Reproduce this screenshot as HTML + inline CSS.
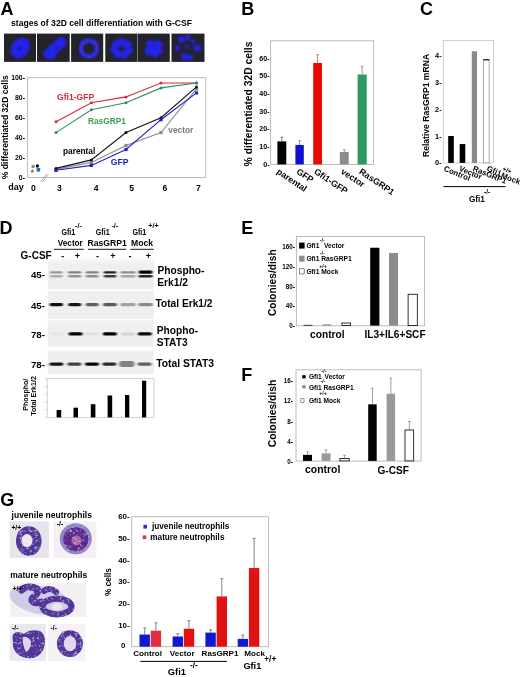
<!DOCTYPE html><html><head><meta charset="utf-8"><style>html,body{margin:0;padding:0;background:#fff;overflow:hidden;}svg{display:block;will-change:transform;}</style></head><body>
<svg width="520" height="677" viewBox="0 0 520 677" font-family='"Liberation Sans", sans-serif'>
<defs>
<clipPath id="clipA0"><rect x="4" y="33.6" width="32" height="28.299999999999997"/></clipPath>
<clipPath id="clipA1"><rect x="37" y="33.6" width="32.7" height="28.299999999999997"/></clipPath>
<clipPath id="clipA2"><rect x="71.1" y="33.6" width="32.10000000000001" height="28.299999999999997"/></clipPath>
<clipPath id="clipA3"><rect x="105.3" y="33.6" width="31.700000000000003" height="28.299999999999997"/></clipPath>
<clipPath id="clipA4"><rect x="137.4" y="33.6" width="32.400000000000006" height="28.299999999999997"/></clipPath>
<clipPath id="clipA5"><rect x="171.5" y="33.6" width="33.0" height="28.299999999999997"/></clipPath>
<filter id="blur1" x="-30%" y="-150%" width="160%" height="400%"><feGaussianBlur stdDeviation="1.1 0.7"/></filter>
<filter id="blurA"><feGaussianBlur stdDeviation="0.9"/></filter>
<filter id="blurG"><feTurbulence type="fractalNoise" baseFrequency="0.4" numOctaves="2" seed="7" result="n"/><feColorMatrix in="n" type="matrix" values="0 0 0 0 0.62  0 0 0 0 0.55  0 0 0 0 0.85  0 0 0 3 -1.75" result="sp"/><feComposite in="sp" in2="SourceGraphic" operator="in" result="s2"/><feMerge result="m"><feMergeNode in="SourceGraphic"/><feMergeNode in="s2"/></feMerge><feGaussianBlur in="m" stdDeviation="0.65"/></filter>
</defs>
<rect x="0.00" y="0.00" width="520.00" height="677.00" fill="#fff" stroke="none" stroke-width="1" />
<text x="0.4" y="14.8" font-size="18" text-anchor="start" font-weight="bold" fill="#000" >A</text>
<text x="11" y="25.8" font-size="8.6" text-anchor="start" font-weight="bold" fill="#000" >stages of 32D cell differentiation with G-CSF</text>
<rect x="4.00" y="33.60" width="32.00" height="28.30" fill="#24232a" stroke="none" stroke-width="1" />
<g clip-path="url(#clipA0)" filter="url(#blurA)">
<ellipse cx="20.2" cy="48" rx="8.8" ry="11" transform="rotate(38 20.2 48)" fill="#2424e8"/><ellipse cx="19.5" cy="48.5" rx="3" ry="2.2" fill="#1a1ac0"/>
</g>
<rect x="37.00" y="33.60" width="32.70" height="28.30" fill="#24232a" stroke="none" stroke-width="1" />
<g clip-path="url(#clipA1)" filter="url(#blurA)">
<ellipse cx="55" cy="48" rx="5.5" ry="12.5" transform="rotate(48 55 48)" fill="#2424e8"/><ellipse cx="50" cy="53.5" rx="6.8" ry="6" fill="#2424e8"/><ellipse cx="61" cy="42.5" rx="5.5" ry="5.5" fill="#2424e8"/><ellipse cx="56" cy="48" rx="2" ry="1.2" fill="#1a1ab0"/>
</g>
<rect x="71.10" y="33.60" width="32.10" height="28.30" fill="#24232a" stroke="none" stroke-width="1" />
<g clip-path="url(#clipA2)" filter="url(#blurA)">
<circle cx="88.9" cy="48.4" r="8.2" fill="none" stroke="#2e2ef0" stroke-width="4.4"/>
</g>
<rect x="105.30" y="33.60" width="31.70" height="28.30" fill="#24232a" stroke="none" stroke-width="1" />
<g clip-path="url(#clipA3)" filter="url(#blurA)">
<circle cx="128.6" cy="50.2" r="4" fill="#2424e8"/><circle cx="124.5" cy="54.5" r="4" fill="#2424e8"/><circle cx="118.2" cy="54.3" r="4" fill="#2424e8"/><circle cx="114.5" cy="49.7" r="4" fill="#2424e8"/><circle cx="116.1" cy="44.2" r="4" fill="#2424e8"/><circle cx="121.9" cy="41.9" r="4" fill="#2424e8"/><circle cx="127.4" cy="44.6" r="4" fill="#2424e8"/>
</g>
<rect x="137.40" y="33.60" width="32.40" height="28.30" fill="#24232a" stroke="none" stroke-width="1" />
<g clip-path="url(#clipA4)" filter="url(#blurA)">
<circle cx="150" cy="50.5" r="5.2" fill="#2424e8"/><circle cx="157.5" cy="45" r="5" fill="#2424e8"/><circle cx="155" cy="53" r="4.2" fill="#2424e8"/><circle cx="149.5" cy="43.5" r="3.6" fill="#2424e8"/><circle cx="160" cy="51" r="3" fill="#2424e8"/>
</g>
<rect x="171.50" y="33.60" width="33.00" height="28.30" fill="#24232a" stroke="none" stroke-width="1" />
<g clip-path="url(#clipA5)" filter="url(#blurA)">
<circle cx="181.4" cy="39.5" r="3.6" fill="#2424e8"/><circle cx="188" cy="37.5" r="2.8" fill="#2424e8"/><circle cx="197.3" cy="48" r="3.6" fill="#2424e8"/><circle cx="184.6" cy="56.4" r="3.6" fill="#2424e8"/><circle cx="190" cy="57.5" r="2.8" fill="#2424e8"/><circle cx="177.5" cy="48" r="2.6" fill="#2424e8"/><circle cx="187" cy="47" r="2.2" fill="#2424e8"/><circle cx="193" cy="41.5" r="2.2" fill="#2424e8"/>
</g>
<rect x="27.60" y="77.70" width="178.10" height="99.80" fill="none" stroke="#b4b4b4" stroke-width="0.9" />
<text x="25" y="179.60000000000002" font-size="6.9" text-anchor="end" font-weight="bold" fill="#000" >0-</text>
<text x="25" y="159.74" font-size="6.9" text-anchor="end" font-weight="bold" fill="#000" >20-</text>
<text x="25" y="139.88000000000002" font-size="6.9" text-anchor="end" font-weight="bold" fill="#000" >40-</text>
<text x="25" y="120.02000000000001" font-size="6.9" text-anchor="end" font-weight="bold" fill="#000" >60-</text>
<text x="25" y="100.16000000000001" font-size="6.9" text-anchor="end" font-weight="bold" fill="#000" >80-</text>
<text x="25" y="80.30000000000001" font-size="6.9" text-anchor="end" font-weight="bold" fill="#000" >100-</text>
<text transform="translate(7.6,127.2) rotate(-90)" font-size="8.6" text-anchor="middle" font-weight="bold" fill="#000">% differentiated 32D cells</text>
<text x="8.2" y="189.6" font-size="9" text-anchor="start" font-weight="bold" fill="#000" >day</text>
<text x="33.3" y="191.3" font-size="8.6" text-anchor="middle" font-weight="bold" fill="#000" >0</text>
<text x="59.5" y="191.3" font-size="8.6" text-anchor="middle" font-weight="bold" fill="#000" >3</text>
<text x="96.1" y="191.3" font-size="8.6" text-anchor="middle" font-weight="bold" fill="#000" >4</text>
<text x="131.6" y="191.3" font-size="8.6" text-anchor="middle" font-weight="bold" fill="#000" >5</text>
<text x="165" y="191.3" font-size="8.6" text-anchor="middle" font-weight="bold" fill="#000" >6</text>
<text x="198.3" y="191.3" font-size="8.6" text-anchor="middle" font-weight="bold" fill="#000" >7</text>
<line x1="40.60" y1="181.60" x2="46.90" y2="173.90" stroke="#aaaaaa" stroke-width="1.0" />
<line x1="42.00" y1="182.40" x2="48.30" y2="174.70" stroke="#aaaaaa" stroke-width="1.0" />
<polyline points="56.0,169.4 91.4,162.4 126.0,145.5 161.0,132.6 196.5,88.9" fill="none" stroke="#8c8c8c" stroke-width="1.1"/>
<rect x="54.40" y="167.76" width="3.20" height="3.20" fill="#8c8c8c" stroke="none" stroke-width="1" />
<rect x="89.80" y="160.81" width="3.20" height="3.20" fill="#8c8c8c" stroke="none" stroke-width="1" />
<rect x="124.40" y="143.92" width="3.20" height="3.20" fill="#8c8c8c" stroke="none" stroke-width="1" />
<rect x="159.40" y="131.02" width="3.20" height="3.20" fill="#8c8c8c" stroke="none" stroke-width="1" />
<rect x="194.90" y="87.32" width="3.20" height="3.20" fill="#8c8c8c" stroke="none" stroke-width="1" />
<polyline points="56.0,121.7 91.4,102.8 126.0,96.9 161.0,83.0 196.5,83.0" fill="none" stroke="#d8283c" stroke-width="1.1"/>
<circle cx="56.0" cy="121.7" r="1.5" fill="#d8283c"/>
<circle cx="91.4" cy="102.8" r="1.5" fill="#d8283c"/>
<circle cx="126.0" cy="96.9" r="1.5" fill="#d8283c"/>
<circle cx="161.0" cy="83.0" r="1.5" fill="#d8283c"/>
<circle cx="196.5" cy="83.0" r="1.5" fill="#d8283c"/>
<polyline points="56.0,132.6 91.4,109.8 126.0,102.8 161.0,87.9 196.5,83.0" fill="none" stroke="#2a9068" stroke-width="1.1"/>
<circle cx="56.0" cy="132.6" r="1.5" fill="#2a9068"/>
<circle cx="91.4" cy="109.8" r="1.5" fill="#2a9068"/>
<circle cx="126.0" cy="102.8" r="1.5" fill="#2a9068"/>
<circle cx="161.0" cy="87.9" r="1.5" fill="#2a9068"/>
<circle cx="196.5" cy="83.0" r="1.5" fill="#2a9068"/>
<polyline points="56.0,168.4 91.4,159.9 126.0,132.6 161.0,117.7 196.5,86.9" fill="none" stroke="#111111" stroke-width="1.1"/>
<circle cx="56.0" cy="168.4" r="1.5" fill="#111111"/>
<circle cx="91.4" cy="159.9" r="1.5" fill="#111111"/>
<circle cx="126.0" cy="132.6" r="1.5" fill="#111111"/>
<circle cx="161.0" cy="117.7" r="1.5" fill="#111111"/>
<circle cx="196.5" cy="86.9" r="1.5" fill="#111111"/>
<polyline points="56.0,170.3 91.4,165.4 126.0,149.5 161.0,119.7 196.5,92.9" fill="none" stroke="#1a22c8" stroke-width="1.1"/>
<rect x="54.40" y="168.75" width="3.20" height="3.20" fill="#1a22c8" stroke="none" stroke-width="1" />
<rect x="89.80" y="163.78" width="3.20" height="3.20" fill="#1a22c8" stroke="none" stroke-width="1" />
<rect x="124.40" y="147.90" width="3.20" height="3.20" fill="#1a22c8" stroke="none" stroke-width="1" />
<rect x="159.40" y="118.11" width="3.20" height="3.20" fill="#1a22c8" stroke="none" stroke-width="1" />
<rect x="194.90" y="91.30" width="3.20" height="3.20" fill="#1a22c8" stroke="none" stroke-width="1" />
<rect x="31.60" y="165.00" width="3.00" height="3.00" fill="#6a9a80" stroke="none" stroke-width="1" />
<polygon points="30.6,172.2 34,172.2 32.3,169" fill="#d0302a"/>
<circle cx="37.4" cy="166" r="1.7" fill="#111"/>
<rect x="36.60" y="168.00" width="3.60" height="3.60" fill="#2a6ad8" stroke="none" stroke-width="1" />
<text x="57" y="100.2" font-size="8.6" text-anchor="start" font-weight="bold" fill="#d42a3a" >Gfi1-GFP</text>
<text x="88" y="123.6" font-size="8.3" text-anchor="start" font-weight="bold" fill="#3a9c4e" >RasGRP1</text>
<text x="63" y="153.8" font-size="8.3" text-anchor="start" font-weight="bold" fill="#000" >parental</text>
<text x="110.8" y="165.2" font-size="8.7" text-anchor="start" font-weight="bold" fill="#1a22c8" >GFP</text>
<text x="168.3" y="133.2" font-size="8.3" text-anchor="start" font-weight="bold" fill="#7a7a7a" >vector</text>
<text x="241.2" y="14.8" font-size="18" text-anchor="start" font-weight="bold" fill="#000" >B</text>
<rect x="270.60" y="40.80" width="103.00" height="123.60" fill="none" stroke="#b4b4b4" stroke-width="0.9" />
<text x="269.6" y="166.8" font-size="7.1" text-anchor="end" font-weight="bold" fill="#000" >0-</text>
<text x="269.6" y="149.10000000000002" font-size="7.1" text-anchor="end" font-weight="bold" fill="#000" >10-</text>
<text x="269.6" y="131.4" font-size="7.1" text-anchor="end" font-weight="bold" fill="#000" >20-</text>
<text x="269.6" y="113.70000000000002" font-size="7.1" text-anchor="end" font-weight="bold" fill="#000" >30-</text>
<text x="269.6" y="96.00000000000001" font-size="7.1" text-anchor="end" font-weight="bold" fill="#000" >40-</text>
<text x="269.6" y="78.30000000000001" font-size="7.1" text-anchor="end" font-weight="bold" fill="#000" >50-</text>
<text x="269.6" y="60.6" font-size="7.1" text-anchor="end" font-weight="bold" fill="#000" >60-</text>
<text transform="translate(251.6,104) rotate(-90)" font-size="10.3" text-anchor="middle" font-weight="bold" fill="#000">% differentiated 32D cells</text>
<line x1="281.85" y1="137.32" x2="281.85" y2="141.39" stroke="#555" stroke-width="0.8" />
<line x1="280.65" y1="137.32" x2="283.05" y2="137.32" stroke="#555" stroke-width="0.8" />
<rect x="277.40" y="141.39" width="8.90" height="23.01" fill="#000" stroke="none" stroke-width="1" />
<line x1="299.60" y1="140.68" x2="299.60" y2="144.93" stroke="#b06060" stroke-width="0.8" />
<line x1="298.40" y1="140.68" x2="300.80" y2="140.68" stroke="#b06060" stroke-width="0.8" />
<rect x="295.40" y="144.93" width="8.40" height="19.47" fill="#1010d0" stroke="none" stroke-width="1" />
<line x1="317.60" y1="54.66" x2="317.60" y2="62.98" stroke="#b06060" stroke-width="0.8" />
<line x1="316.40" y1="54.66" x2="318.80" y2="54.66" stroke="#b06060" stroke-width="0.8" />
<rect x="313.20" y="62.98" width="8.80" height="101.42" fill="#e80808" stroke="none" stroke-width="1" />
<line x1="344.25" y1="149.89" x2="344.25" y2="152.01" stroke="#b06060" stroke-width="0.8" />
<line x1="343.05" y1="149.89" x2="345.45" y2="149.89" stroke="#b06060" stroke-width="0.8" />
<rect x="339.80" y="152.01" width="8.90" height="12.39" fill="#8c8c8c" stroke="none" stroke-width="1" />
<line x1="362.15" y1="66.17" x2="362.15" y2="74.48" stroke="#b06060" stroke-width="0.8" />
<line x1="360.95" y1="66.17" x2="363.35" y2="66.17" stroke="#b06060" stroke-width="0.8" />
<rect x="357.60" y="74.48" width="9.10" height="89.92" fill="#2e9964" stroke="none" stroke-width="1" />
<text transform="translate(276,173) rotate(34)" font-size="8.8" text-anchor="start" font-weight="bold" fill="#000">parental</text>
<text transform="translate(295.8,173) rotate(34)" font-size="8.8" text-anchor="start" font-weight="bold" fill="#000">GFP</text>
<text transform="translate(313.4,173) rotate(34)" font-size="8.8" text-anchor="start" font-weight="bold" fill="#000">Gfi1-GFP</text>
<text transform="translate(340.3,173) rotate(34)" font-size="8.8" text-anchor="start" font-weight="bold" fill="#000">vector</text>
<text transform="translate(358.6,173) rotate(34)" font-size="8.8" text-anchor="start" font-weight="bold" fill="#000">RasGRP1</text>
<text x="420" y="14.8" font-size="18" text-anchor="start" font-weight="bold" fill="#000" >C</text>
<rect x="443.20" y="40.50" width="50.30" height="122.40" fill="none" stroke="#c4c4c4" stroke-width="0.8" />
<text x="441.6" y="165.4" font-size="7.3" text-anchor="end" font-weight="bold" fill="#000" >0-</text>
<text x="441.6" y="138.5" font-size="7.3" text-anchor="end" font-weight="bold" fill="#000" >1-</text>
<text x="441.6" y="111.60000000000001" font-size="7.3" text-anchor="end" font-weight="bold" fill="#000" >2-</text>
<text x="441.6" y="84.70000000000002" font-size="7.3" text-anchor="end" font-weight="bold" fill="#000" >3-</text>
<text x="441.6" y="57.80000000000001" font-size="7.3" text-anchor="end" font-weight="bold" fill="#000" >4-</text>
<text transform="translate(429.4,105.5) rotate(-90)" font-size="8.6" text-anchor="middle" font-weight="bold" fill="#000">Relative RasGRP1 mRNA</text>
<rect x="448.20" y="136.00" width="5.60" height="26.90" fill="#000" stroke="none" stroke-width="1" />
<rect x="459.70" y="144.07" width="5.60" height="18.83" fill="#000" stroke="none" stroke-width="1" />
<rect x="471.80" y="51.27" width="5.20" height="111.64" fill="#8a8a8a" stroke="none" stroke-width="1" />
<rect x="483.70" y="59.64" width="5.40" height="103.27" fill="#fff" stroke="#777" stroke-width="0.6" />
<line x1="483.40" y1="59.84" x2="489.40" y2="59.84" stroke="#000" stroke-width="1.1" />
<text transform="translate(443.2,170.6) rotate(22)" font-size="7.8" text-anchor="start" font-weight="bold" fill="#000">Control</text>
<text transform="translate(458.5,170.6) rotate(22)" font-size="7.8" text-anchor="start" font-weight="bold" fill="#000">Vector</text>
<text transform="translate(472.2,170.6) rotate(22)" font-size="7.8" text-anchor="start" font-weight="bold" fill="#000">RasGRP1</text>
<text transform="translate(486.2,170.6) rotate(22)" font-size="7.8" text-anchor="start" font-weight="bold" fill="#000">Gfi1</text>
<text transform="translate(502,170.4) rotate(22)" font-size="6.4" text-anchor="start" font-weight="bold" fill="#000">+/+</text>
<text transform="translate(500.6,177.2) rotate(22)" font-size="7.8" text-anchor="start" font-weight="bold" fill="#000">Mock</text>
<line x1="443.40" y1="186.60" x2="505.40" y2="186.60" stroke="#000" stroke-width="1" />
<text x="469" y="201.5" font-size="8.2" text-anchor="start" font-weight="bold" fill="#000" >Gfi1</text>
<text x="484" y="194.3" font-size="6.4" text-anchor="start" font-weight="bold" fill="#000" >-/-</text>
<text x="-0.5" y="234.2" font-size="18" text-anchor="start" font-weight="bold" fill="#000" >D</text>
<text x="68.3" y="235.3" font-size="8.6" text-anchor="middle" font-weight="bold" fill="#000" textLength="13.8" lengthAdjust="spacingAndGlyphs">Gfi1</text>
<text x="75" y="228.2" font-size="7.2" text-anchor="start" font-weight="bold" fill="#000" >-/-</text>
<text x="70.3" y="245.6" font-size="8.2" text-anchor="middle" font-weight="bold" fill="#000" >Vector</text>
<line x1="53.80" y1="249.30" x2="83.80" y2="249.30" stroke="#000" stroke-width="0.9" />
<text x="102.7" y="235.3" font-size="8.6" text-anchor="middle" font-weight="bold" fill="#000" textLength="13.8" lengthAdjust="spacingAndGlyphs">Gfi1</text>
<text x="111.4" y="228.2" font-size="7.2" text-anchor="start" font-weight="bold" fill="#000" >-/-</text>
<text x="107.1" y="245.6" font-size="8.6" text-anchor="middle" font-weight="bold" fill="#000" >RasGRP1</text>
<line x1="88.00" y1="249.30" x2="126.20" y2="249.30" stroke="#000" stroke-width="0.9" />
<text x="139.3" y="235.3" font-size="8.6" text-anchor="middle" font-weight="bold" fill="#000" textLength="13.8" lengthAdjust="spacingAndGlyphs">Gfi1</text>
<text x="148.2" y="228.2" font-size="7.2" text-anchor="start" font-weight="bold" fill="#000" >+/+</text>
<text x="142.05" y="245.6" font-size="8.6" text-anchor="middle" font-weight="bold" fill="#000" >Mock</text>
<line x1="130.40" y1="249.30" x2="153.70" y2="249.30" stroke="#000" stroke-width="0.9" />
<text x="20.6" y="258.8" font-size="10" text-anchor="start" font-weight="bold" fill="#000" >G-CSF</text>
<text x="62.7" y="258.6" font-size="9" text-anchor="middle" font-weight="bold" fill="#000" >-</text>
<text x="77.5" y="258.6" font-size="9" text-anchor="middle" font-weight="bold" fill="#000" >+</text>
<text x="97.6" y="258.6" font-size="9" text-anchor="middle" font-weight="bold" fill="#000" >-</text>
<text x="113" y="258.6" font-size="9" text-anchor="middle" font-weight="bold" fill="#000" >+</text>
<text x="130" y="258.6" font-size="9" text-anchor="middle" font-weight="bold" fill="#000" >-</text>
<text x="148.4" y="258.6" font-size="9" text-anchor="middle" font-weight="bold" fill="#000" >+</text>
<rect x="47.80" y="259.70" width="106.00" height="29.70" fill="#efefef" stroke="none" stroke-width="1" />
<rect x="47.80" y="291.20" width="106.00" height="27.70" fill="#efefef" stroke="none" stroke-width="1" />
<rect x="47.80" y="320.40" width="106.00" height="26.20" fill="#efefef" stroke="none" stroke-width="1" />
<rect x="47.80" y="350.60" width="106.00" height="23.40" fill="#efefef" stroke="none" stroke-width="1" />
<rect x="47.80" y="259.70" width="106.00" height="4.00" fill="#f3f3f3" stroke="none" stroke-width="1" />
<rect x="50.05" y="271.20" width="12.50" height="2.40" rx="1.20" fill="#000" opacity="0.36" filter="url(#blur1)"/>
<rect x="50.05" y="275.00" width="12.50" height="2.40" rx="1.20" fill="#000" opacity="0.28" filter="url(#blur1)"/>
<rect x="68.20" y="271.20" width="13.00" height="2.40" rx="1.20" fill="#000" opacity="0.45" filter="url(#blur1)"/>
<rect x="68.20" y="275.00" width="13.00" height="2.40" rx="1.20" fill="#000" opacity="0.38" filter="url(#blur1)"/>
<rect x="85.70" y="271.20" width="13.00" height="2.40" rx="1.20" fill="#000" opacity="0.45" filter="url(#blur1)"/>
<rect x="85.70" y="275.00" width="13.00" height="2.40" rx="1.20" fill="#000" opacity="0.4" filter="url(#blur1)"/>
<rect x="103.75" y="271.20" width="12.50" height="2.40" rx="1.20" fill="#000" opacity="0.85" filter="url(#blur1)"/>
<rect x="103.75" y="275.00" width="12.50" height="2.40" rx="1.20" fill="#000" opacity="0.75" filter="url(#blur1)"/>
<rect x="120.60" y="271.20" width="15.00" height="2.40" rx="1.20" fill="#000" opacity="0.4" filter="url(#blur1)"/>
<rect x="120.60" y="275.00" width="15.00" height="2.40" rx="1.20" fill="#000" opacity="0.3" filter="url(#blur1)"/>
<rect x="138.60" y="270.50" width="14.00" height="3.20" rx="1.60" fill="#000" opacity="1.0" filter="url(#blur1)"/>
<rect x="138.60" y="275.00" width="14.00" height="2.40" rx="1.20" fill="#000" opacity="0.85" filter="url(#blur1)"/>
<rect x="49.55" y="303.00" width="13.50" height="3.20" rx="1.60" fill="#000" opacity="0.95" filter="url(#blur1)"/>
<rect x="68.20" y="303.00" width="13.00" height="3.20" rx="1.60" fill="#000" opacity="0.92" filter="url(#blur1)"/>
<rect x="85.70" y="303.00" width="13.00" height="3.20" rx="1.60" fill="#000" opacity="0.6" filter="url(#blur1)"/>
<rect x="103.00" y="303.00" width="14.00" height="3.20" rx="1.60" fill="#000" opacity="0.62" filter="url(#blur1)"/>
<rect x="120.35" y="303.00" width="15.50" height="3.20" rx="1.60" fill="#000" opacity="0.32" filter="url(#blur1)"/>
<rect x="138.35" y="303.00" width="14.50" height="3.20" rx="1.60" fill="#000" opacity="0.42" filter="url(#blur1)"/>
<rect x="49.30" y="332.30" width="14.00" height="3.20" rx="1.60" fill="#000" opacity="0.03" filter="url(#blur1)"/>
<rect x="68.60" y="332.30" width="14.00" height="3.20" rx="1.60" fill="#000" opacity="1.0" filter="url(#blur1)"/>
<rect x="85.20" y="332.30" width="14.00" height="3.20" rx="1.60" fill="#000" opacity="0.06" filter="url(#blur1)"/>
<rect x="102.90" y="332.30" width="14.00" height="3.20" rx="1.60" fill="#000" opacity="1.0" filter="url(#blur1)"/>
<rect x="121.00" y="332.30" width="14.00" height="3.20" rx="1.60" fill="#000" opacity="0.1" filter="url(#blur1)"/>
<rect x="137.80" y="332.30" width="14.00" height="3.20" rx="1.60" fill="#000" opacity="0.95" filter="url(#blur1)"/>
<rect x="49.40" y="362.40" width="14.00" height="3.40" rx="1.70" fill="#000" opacity="0.92" filter="url(#blur1)"/>
<rect x="67.30" y="362.40" width="14.00" height="3.40" rx="1.70" fill="#000" opacity="0.72" filter="url(#blur1)"/>
<rect x="85.00" y="362.40" width="14.00" height="3.40" rx="1.70" fill="#000" opacity="0.97" filter="url(#blur1)"/>
<rect x="102.40" y="362.40" width="14.00" height="3.40" rx="1.70" fill="#000" opacity="0.82" filter="url(#blur1)"/>
<rect x="119.05" y="361.10" width="15.50" height="6.00" rx="3.00" fill="#000" opacity="0.45" filter="url(#blur1)"/>
<rect x="137.50" y="362.40" width="14.00" height="3.40" rx="1.70" fill="#000" opacity="0.6" filter="url(#blur1)"/>
<text x="45" y="277.5" font-size="9.7" text-anchor="end" font-weight="bold" fill="#000" >45-</text>
<text x="45" y="308.5" font-size="9.7" text-anchor="end" font-weight="bold" fill="#000" >45-</text>
<text x="45" y="337.5" font-size="9.7" text-anchor="end" font-weight="bold" fill="#000" >78-</text>
<text x="45" y="368" font-size="9.7" text-anchor="end" font-weight="bold" fill="#000" >78-</text>
<text x="157.5" y="273.7" font-size="10.2" text-anchor="start" font-weight="bold" fill="#000" >Phospho-</text>
<text x="157.3" y="286.4" font-size="10.2" text-anchor="start" font-weight="bold" fill="#000" >Erk1/2</text>
<text x="155.5" y="306.9" font-size="10.2" text-anchor="start" font-weight="bold" fill="#000" >Total Erk1/2</text>
<text x="156.8" y="334.1" font-size="10.2" text-anchor="start" font-weight="bold" fill="#000" >Phopho-</text>
<text x="156.8" y="346.1" font-size="10.2" text-anchor="start" font-weight="bold" fill="#000" >STAT3</text>
<text x="156.2" y="366.8" font-size="10.3" text-anchor="start" font-weight="bold" fill="#000" >Total STAT3</text>
<rect x="47.20" y="378.40" width="106.80" height="39.00" fill="none" stroke="#c8c8c8" stroke-width="0.8" />
<line x1="45.60" y1="378.80" x2="46.80" y2="378.80" stroke="#999" stroke-width="0.6" />
<line x1="45.60" y1="386.50" x2="46.80" y2="386.50" stroke="#999" stroke-width="0.6" />
<line x1="45.60" y1="394.20" x2="46.80" y2="394.20" stroke="#999" stroke-width="0.6" />
<line x1="45.60" y1="401.90" x2="46.80" y2="401.90" stroke="#999" stroke-width="0.6" />
<line x1="45.60" y1="409.60" x2="46.80" y2="409.60" stroke="#999" stroke-width="0.6" />
<line x1="45.60" y1="417.30" x2="46.80" y2="417.30" stroke="#999" stroke-width="0.6" />
<rect x="56.60" y="410.00" width="4.60" height="7.40" fill="#000" stroke="none" stroke-width="1" />
<rect x="73.50" y="407.70" width="4.50" height="9.70" fill="#000" stroke="none" stroke-width="1" />
<rect x="90.80" y="404.20" width="4.60" height="13.20" fill="#000" stroke="none" stroke-width="1" />
<rect x="107.60" y="395.50" width="4.60" height="21.90" fill="#000" stroke="none" stroke-width="1" />
<rect x="125.00" y="395.00" width="4.30" height="22.40" fill="#000" stroke="none" stroke-width="1" />
<rect x="142.00" y="380.70" width="4.20" height="36.70" fill="#000" stroke="none" stroke-width="1" />
<text transform="translate(27.6,394.8) rotate(-90)" font-size="7" text-anchor="middle" font-weight="bold" fill="#000">Phospho/</text>
<text transform="translate(36.4,396) rotate(-90)" font-size="7.1" text-anchor="middle" font-weight="bold" fill="#000">Total Erk1/2</text>
<text x="44.2" y="380.2" font-size="4" text-anchor="end" font-weight="normal" fill="#999" >.</text>
<text x="44.2" y="387.9" font-size="4" text-anchor="end" font-weight="normal" fill="#999" >.</text>
<text x="44.2" y="395.59999999999997" font-size="4" text-anchor="end" font-weight="normal" fill="#999" >.</text>
<text x="44.2" y="403.3" font-size="4" text-anchor="end" font-weight="normal" fill="#999" >.</text>
<text x="44.2" y="411.0" font-size="4" text-anchor="end" font-weight="normal" fill="#999" >.</text>
<text x="44.2" y="418.7" font-size="4" text-anchor="end" font-weight="normal" fill="#999" >.</text>
<text x="241.3" y="234.2" font-size="18" text-anchor="start" font-weight="bold" fill="#000" >E</text>
<rect x="296.40" y="236.50" width="128.20" height="89.30" fill="none" stroke="#b4b4b4" stroke-width="0.9" />
<text x="294.8" y="328.3" font-size="6.3" text-anchor="end" font-weight="bold" fill="#000" >0-</text>
<text x="294.8" y="308.46000000000004" font-size="6.3" text-anchor="end" font-weight="bold" fill="#000" >40-</text>
<text x="294.8" y="288.62" font-size="6.3" text-anchor="end" font-weight="bold" fill="#000" >80-</text>
<text x="294.8" y="268.78000000000003" font-size="6.3" text-anchor="end" font-weight="bold" fill="#000" >120-</text>
<text x="294.8" y="248.94" font-size="6.3" text-anchor="end" font-weight="bold" fill="#000" >160-</text>
<text transform="translate(276.3,282.7) rotate(-90)" font-size="10.2" text-anchor="middle" font-weight="bold" fill="#000">Colonies/dish</text>
<rect x="299.10" y="242.60" width="5.50" height="6.00" fill="#000" stroke="none" stroke-width="1" />
<rect x="299.10" y="255.70" width="5.50" height="6.00" fill="#8c8c8c" stroke="none" stroke-width="1" />
<rect x="299.50" y="268.70" width="4.70" height="5.20" fill="#fff" stroke="#666" stroke-width="0.8" />
<text x="306.4" y="247.6" font-size="6.7" text-anchor="start" font-weight="bold" fill="#000" >Gfi1</text>
<text x="324" y="247.6" font-size="6.7" text-anchor="start" font-weight="bold" fill="#000" >Vector</text>
<text x="306.4" y="260.9" font-size="6.7" text-anchor="start" font-weight="bold" fill="#000" >Gfi1 RasGRP1</text>
<text x="306.4" y="273.7" font-size="6.7" text-anchor="start" font-weight="bold" fill="#000" >Gfi1 Mock</text>
<text x="319.8" y="241.8" font-size="5.2" text-anchor="start" font-weight="bold" fill="#000" >-/-</text>
<text x="319.8" y="254.6" font-size="5.2" text-anchor="start" font-weight="bold" fill="#000" >-/-</text>
<text x="319.2" y="267.6" font-size="5.2" text-anchor="start" font-weight="bold" fill="#000" >+/+</text>
<rect x="303.50" y="324.86" width="8.90" height="0.74" fill="#000" stroke="none" stroke-width="1" />
<rect x="322.50" y="324.36" width="8.80" height="1.24" fill="#8c8c8c" stroke="none" stroke-width="1" />
<rect x="341.90" y="323.02" width="8.70" height="2.58" fill="#fff" stroke="#000" stroke-width="0.8" />
<rect x="370.20" y="247.73" width="9.20" height="77.87" fill="#000" stroke="none" stroke-width="1" />
<rect x="389.00" y="252.94" width="9.00" height="72.66" fill="#8c8c8c" stroke="none" stroke-width="1" />
<rect x="408.10" y="294.26" width="9.20" height="31.34" fill="#fff" stroke="#000" stroke-width="0.8" />
<text x="327.3" y="338.4" font-size="10.2" text-anchor="middle" font-weight="bold" fill="#000" >control</text>
<text x="395" y="338.2" font-size="10.1" text-anchor="middle" font-weight="bold" fill="#000" >IL3+IL6+SCF</text>
<text x="241.3" y="381.3" font-size="18" text-anchor="start" font-weight="bold" fill="#000" >F</text>
<rect x="296.00" y="369.80" width="125.10" height="91.30" fill="none" stroke="#b4b4b4" stroke-width="0.9" />
<text x="292.8" y="464.0" font-size="6.3" text-anchor="end" font-weight="bold" fill="#000" >0-</text>
<text x="292.8" y="443.8" font-size="6.3" text-anchor="end" font-weight="bold" fill="#000" >4-</text>
<text x="292.8" y="423.6" font-size="6.3" text-anchor="end" font-weight="bold" fill="#000" >8-</text>
<text x="292.8" y="403.4" font-size="6.3" text-anchor="end" font-weight="bold" fill="#000" >12-</text>
<text x="292.8" y="383.2" font-size="6.3" text-anchor="end" font-weight="bold" fill="#000" >16-</text>
<text transform="translate(276.4,413.5) rotate(-90)" font-size="10.3" text-anchor="middle" font-weight="bold" fill="#000">Colonies/dish</text>
<rect x="302.20" y="375.20" width="3.40" height="3.20" fill="#000" stroke="none" stroke-width="1" />
<rect x="302.20" y="385.20" width="3.40" height="3.20" fill="#8c8c8c" stroke="none" stroke-width="1" />
<rect x="300.80" y="398.70" width="3.20" height="3.80" fill="#fff" stroke="#666" stroke-width="0.7" />
<text x="308.9" y="379.1" font-size="6.6" text-anchor="start" font-weight="bold" fill="#000" >Gfi1</text>
<text x="324.6" y="379.1" font-size="6.6" text-anchor="start" font-weight="bold" fill="#000" >Vector</text>
<text x="308.9" y="389.8" font-size="6.6" text-anchor="start" font-weight="bold" fill="#000" >Gfi1 RasGRP1</text>
<text x="308.9" y="402.7" font-size="6.6" text-anchor="start" font-weight="bold" fill="#000" >Gfi1 Mock</text>
<text x="321.6" y="373.2" font-size="5.2" text-anchor="start" font-weight="bold" fill="#000" >-/-</text>
<text x="320.5" y="383.3" font-size="5.2" text-anchor="start" font-weight="bold" fill="#000" >-/-</text>
<text x="319.3" y="394.6" font-size="5.2" text-anchor="start" font-weight="bold" fill="#000" >+/+</text>
<line x1="307.50" y1="451.81" x2="307.50" y2="454.84" stroke="#888" stroke-width="0.8" />
<line x1="306.20" y1="451.81" x2="308.80" y2="451.81" stroke="#888" stroke-width="0.8" />
<rect x="303.00" y="454.84" width="9.00" height="6.06" fill="#000" stroke="none" stroke-width="1" />
<line x1="326.05" y1="449.79" x2="326.05" y2="453.32" stroke="#888" stroke-width="0.8" />
<line x1="324.75" y1="449.79" x2="327.35" y2="449.79" stroke="#888" stroke-width="0.8" />
<rect x="321.60" y="453.32" width="8.90" height="7.57" fill="#999" stroke="none" stroke-width="1" />
<line x1="344.55" y1="455.34" x2="344.55" y2="458.12" stroke="#888" stroke-width="0.8" />
<line x1="343.25" y1="455.34" x2="345.85" y2="455.34" stroke="#888" stroke-width="0.8" />
<rect x="339.90" y="458.52" width="9.30" height="2.38" fill="#fff" stroke="#000" stroke-width="0.8" />
<line x1="372.45" y1="388.18" x2="372.45" y2="404.34" stroke="#888" stroke-width="0.8" />
<line x1="371.15" y1="388.18" x2="373.75" y2="388.18" stroke="#888" stroke-width="0.8" />
<rect x="368.20" y="404.34" width="8.50" height="56.56" fill="#000" stroke="none" stroke-width="1" />
<line x1="390.85" y1="378.08" x2="390.85" y2="393.73" stroke="#888" stroke-width="0.8" />
<line x1="389.55" y1="378.08" x2="392.15" y2="378.08" stroke="#888" stroke-width="0.8" />
<rect x="386.60" y="393.73" width="8.50" height="67.17" fill="#999" stroke="none" stroke-width="1" />
<line x1="409.35" y1="421.51" x2="409.35" y2="429.59" stroke="#888" stroke-width="0.8" />
<line x1="408.05" y1="421.51" x2="410.65" y2="421.51" stroke="#888" stroke-width="0.8" />
<rect x="405.00" y="429.99" width="8.70" height="30.91" fill="#fff" stroke="#000" stroke-width="0.8" />
<text x="322.7" y="473.2" font-size="10.4" text-anchor="middle" font-weight="bold" fill="#000" >control</text>
<text x="393.2" y="473.5" font-size="10.1" text-anchor="middle" font-weight="bold" fill="#000" >G-CSF</text>
<text x="0.2" y="505.8" font-size="18" text-anchor="start" font-weight="bold" fill="#000" >G</text>
<text x="11.6" y="518" font-size="8.5" text-anchor="start" font-weight="bold" fill="#000" >juvenile neutrophils</text>
<text x="10.2" y="578.4" font-size="8.5" text-anchor="start" font-weight="bold" fill="#000" >mature neutrophils</text>
<rect x="9.60" y="521.40" width="39.30" height="36.60" fill="#e8e4ec" stroke="none" stroke-width="1" />
<rect x="53.40" y="521.40" width="43.00" height="36.60" fill="#f6f0f3" stroke="none" stroke-width="1" />
<rect x="10.40" y="583.20" width="75.60" height="33.80" fill="#f3eff3" stroke="none" stroke-width="1" />
<rect x="9.60" y="624.00" width="36.30" height="37.00" fill="#ebe7ef" stroke="none" stroke-width="1" />
<rect x="48.20" y="624.00" width="37.10" height="37.00" fill="#f5f1f5" stroke="none" stroke-width="1" />
<g filter="url(#blurG)">
<ellipse cx="28.8" cy="541" rx="12.8" ry="14.8" fill="#52349a"/>
<ellipse cx="27" cy="540.6" rx="5.6" ry="6.6" fill="#efeaf2"/>
<circle cx="20" cy="533" r="2.2" fill="#6a58b0"/>
<circle cx="36" cy="534" r="2" fill="#6a58b0"/>
<circle cx="37" cy="548" r="2.2" fill="#6a58b0"/>
<circle cx="22" cy="550" r="2" fill="#6a58b0"/>
<circle cx="29" cy="528.5" r="1.8" fill="#6a58b0"/>
<ellipse cx="75.8" cy="538.8" rx="16" ry="15.5" fill="#8e86c8"/>
<ellipse cx="75.8" cy="539.3" rx="12.5" ry="12" fill="#5c2a8c"/>
<circle cx="76.5" cy="540.5" r="5" fill="#a868a8"/>
<circle cx="68" cy="532" r="1.6" fill="#8a4aa0"/>
<circle cx="84" cy="534" r="1.5" fill="#8a4aa0"/>
<circle cx="82" cy="546" r="1.6" fill="#8a4aa0"/>
<circle cx="69" cy="547" r="1.4" fill="#8a4aa0"/>
<ellipse cx="40" cy="600" rx="31" ry="14" transform="rotate(12 40 600)" fill="#cdcde6"/>
<path d="M21.5,590 C25,586.5 32,586 37,589 C40,592 34,596 32,599 C31,602 36,604 41,602" fill="none" stroke="#52349a" stroke-width="7" stroke-linecap="round"/>
<path d="M44,591 C48,588 53,589 56,592" fill="none" stroke="#52349a" stroke-width="6.2" stroke-linecap="round"/>
<ellipse cx="57" cy="606.5" rx="14.5" ry="7.8" fill="none" stroke="#52349a" stroke-width="6.2"/>
<ellipse cx="57" cy="606.8" rx="5.5" ry="3.6" fill="#ece6f0"/>
<path d="M12.5,636 C14,631 20,631 24,634 C27,631 33,629 40,631 C46,634 46,644 43,650 C40,656 34,659 28,658 C21,658 14,653 13,646 Z" fill="#52349a"/>
<path d="M23,637 C26,636 29,638 31,641 C31,646 29,651 26,652 C24,648 22,642 23,637 Z" fill="#ddd6ea"/>
<ellipse cx="69.9" cy="643.6" rx="13" ry="13.3" fill="#52349a"/>
<ellipse cx="70" cy="643.6" rx="6.3" ry="7.6" fill="#e0daec"/>
<circle cx="59" cy="640" r="1.4" fill="#7a6ab8"/>
<circle cx="63" cy="633" r="1.4" fill="#7a6ab8"/>
<circle cx="77" cy="633.5" r="1.4" fill="#7a6ab8"/>
<circle cx="81" cy="645" r="1.4" fill="#7a6ab8"/>
<circle cx="74" cy="655" r="1.4" fill="#7a6ab8"/>
<circle cx="62" cy="652" r="1.4" fill="#7a6ab8"/>
</g>
<text x="11.4" y="530.3" font-size="6.8" text-anchor="start" font-weight="bold" fill="#000" >+/+</text>
<text x="56.8" y="525.5" font-size="6.8" text-anchor="start" font-weight="bold" fill="#000" >-/-</text>
<text x="12.6" y="590.5" font-size="6.8" text-anchor="start" font-weight="bold" fill="#000" >+/+</text>
<text x="12" y="629.8" font-size="6.8" text-anchor="start" font-weight="bold" fill="#000" >-/-</text>
<text x="50.5" y="630.3" font-size="6.8" text-anchor="start" font-weight="bold" fill="#000" >-/-</text>
<rect x="131.70" y="516.70" width="136.70" height="130.00" fill="none" stroke="#b4b4b4" stroke-width="0.9" />
<text x="129.6" y="627.7300000000001" font-size="7.9" text-anchor="end" font-weight="bold" fill="#000" >10-</text>
<text x="129.6" y="606.0600000000001" font-size="7.9" text-anchor="end" font-weight="bold" fill="#000" >20-</text>
<text x="129.6" y="584.3900000000001" font-size="7.9" text-anchor="end" font-weight="bold" fill="#000" >30-</text>
<text x="129.6" y="562.7200000000001" font-size="7.9" text-anchor="end" font-weight="bold" fill="#000" >40-</text>
<text x="129.6" y="541.0500000000001" font-size="7.9" text-anchor="end" font-weight="bold" fill="#000" >50-</text>
<text x="129.6" y="519.3800000000001" font-size="7.9" text-anchor="end" font-weight="bold" fill="#000" >60-</text>
<text x="123.2" y="647.6" font-size="7.9" text-anchor="middle" font-weight="bold" fill="#000" >0</text>
<text transform="translate(111,582) rotate(-90)" font-size="8.2" text-anchor="middle" font-weight="bold" fill="#000">% cells</text>
<rect x="143.40" y="524.80" width="3.60" height="3.80" fill="#2a36d0" stroke="none" stroke-width="1" />
<text x="152" y="529.4" font-size="8.2" text-anchor="start" font-weight="bold" fill="#000" >juvenile neutrophils</text>
<rect x="142.70" y="535.40" width="3.60" height="3.80" fill="#e03848" stroke="none" stroke-width="1" />
<text x="150.3" y="540.1" font-size="8.2" text-anchor="start" font-weight="bold" fill="#000" >mature neutrophils</text>
<line x1="144.70" y1="627.85" x2="144.70" y2="634.56" stroke="#666" stroke-width="0.8" />
<line x1="143.20" y1="627.85" x2="146.20" y2="627.85" stroke="#666" stroke-width="0.8" />
<rect x="139.50" y="634.56" width="10.40" height="12.14" fill="#1018d0" stroke="none" stroke-width="1" />
<line x1="155.90" y1="622.86" x2="155.90" y2="630.66" stroke="#666" stroke-width="0.8" />
<line x1="154.40" y1="622.86" x2="157.40" y2="622.86" stroke="#666" stroke-width="0.8" />
<rect x="150.70" y="630.66" width="10.40" height="16.04" fill="#e03040" stroke="none" stroke-width="1" />
<line x1="177.80" y1="633.70" x2="177.80" y2="636.52" stroke="#666" stroke-width="0.8" />
<line x1="176.30" y1="633.70" x2="179.30" y2="633.70" stroke="#666" stroke-width="0.8" />
<rect x="172.60" y="636.52" width="10.40" height="10.18" fill="#1018d0" stroke="none" stroke-width="1" />
<line x1="189.00" y1="620.70" x2="189.00" y2="628.71" stroke="#666" stroke-width="0.8" />
<line x1="187.50" y1="620.70" x2="190.50" y2="620.70" stroke="#666" stroke-width="0.8" />
<rect x="183.80" y="628.71" width="10.40" height="17.99" fill="#e21212" stroke="none" stroke-width="1" />
<line x1="210.60" y1="629.80" x2="210.60" y2="632.61" stroke="#666" stroke-width="0.8" />
<line x1="209.10" y1="629.80" x2="212.10" y2="629.80" stroke="#666" stroke-width="0.8" />
<rect x="205.40" y="632.61" width="10.40" height="14.09" fill="#1018d0" stroke="none" stroke-width="1" />
<line x1="221.80" y1="578.66" x2="221.80" y2="596.43" stroke="#666" stroke-width="0.8" />
<line x1="220.30" y1="578.66" x2="223.30" y2="578.66" stroke="#666" stroke-width="0.8" />
<rect x="216.60" y="596.43" width="10.40" height="50.27" fill="#e21212" stroke="none" stroke-width="1" />
<line x1="242.90" y1="635.00" x2="242.90" y2="638.90" stroke="#666" stroke-width="0.8" />
<line x1="241.40" y1="635.00" x2="244.40" y2="635.00" stroke="#666" stroke-width="0.8" />
<rect x="237.70" y="638.90" width="10.40" height="7.80" fill="#1018d0" stroke="none" stroke-width="1" />
<line x1="254.10" y1="538.35" x2="254.10" y2="568.04" stroke="#666" stroke-width="0.8" />
<line x1="252.60" y1="538.35" x2="255.60" y2="538.35" stroke="#666" stroke-width="0.8" />
<rect x="248.90" y="568.04" width="10.40" height="78.66" fill="#e21212" stroke="none" stroke-width="1" />
<text x="147.6" y="655.8" font-size="8.1" text-anchor="middle" font-weight="bold" fill="#000" >Control</text>
<text x="182.2" y="655.8" font-size="8.1" text-anchor="middle" font-weight="bold" fill="#000" >Vector</text>
<text x="220" y="655.8" font-size="8.1" text-anchor="middle" font-weight="bold" fill="#000" >RasGRP1</text>
<text x="254.6" y="655.8" font-size="8.1" text-anchor="middle" font-weight="bold" fill="#000" >Mock</text>
<line x1="140.30" y1="661.40" x2="226.90" y2="661.40" stroke="#000" stroke-width="1" />
<text x="167.8" y="675" font-size="9.4" text-anchor="start" font-weight="bold" fill="#000" >Gfi1</text>
<text x="190" y="667.6" font-size="8.4" text-anchor="start" font-weight="bold" fill="#000" >-/-</text>
<text x="243.4" y="668.8" font-size="9.2" text-anchor="start" font-weight="bold" fill="#000" >Gfi1</text>
<text x="264.2" y="662" font-size="8.4" text-anchor="start" font-weight="bold" fill="#000" >+/+</text>
</svg></body></html>
